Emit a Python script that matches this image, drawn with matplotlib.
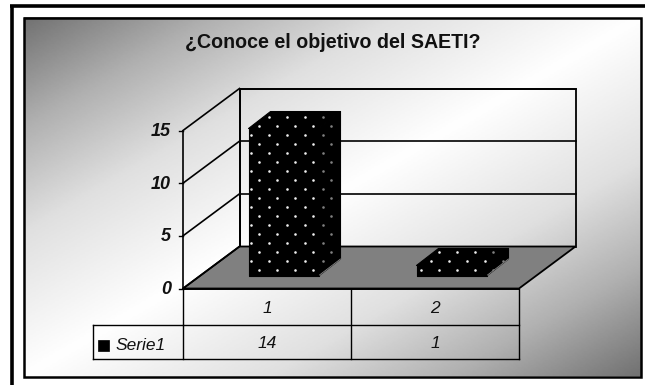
import numpy as np
import matplotlib
matplotlib.use('Agg')
import matplotlib.pyplot as plt
from matplotlib.colors import LinearSegmentedColormap
from matplotlib.patches import Polygon, Rectangle

title = '¿Conoce el objetivo del SAETI?'
categories = ['1', '2']
series_name = 'Serie1'
values = [14, 1]
y_ticks = [0, 5, 10, 15]

plt.rcParams['font.family'] = ['Liberation Sans', 'DejaVu Sans']

W, H = 645, 385
X0, X1 = 183, 519       # front edge of the floor
Y0, Y15 = 288.5, 130.5  # front axis
DX, DY = 56.5, 42       # depth of the box
BAR_W = 70
BAR_DX, BAR_DY = 22, 17
BAR_BASE = 276
BAR_SHIFT = 16.5


def ypix(v):
    return Y0 + (Y15 - Y0) * v / 15.0


fig = plt.figure(figsize=(W / 100, H / 100), dpi=100)
ax = fig.add_axes([0, 0, 1, 1])
ax.set_xlim(0, W)
ax.set_ylim(H, 0)
ax.axis('off')

# diagonal background: dark corners, white band through the middle
L, T, R, B = 23.5, 17.5, 640.5, 376.5
xx, yy = np.meshgrid(np.linspace(0, 1, 300), np.linspace(0, 1, 200))
t = (xx + yy) / 2
cmap = LinearSegmentedColormap.from_list('bg', [(0, '#727272'), (0.15, '#b0b0b0'), (0.3, '#e0e0e0'), (0.5, '#ffffff'),
                                                (0.7, '#e0e0e0'), (0.85, '#b0b0b0'), (1, '#727272')])
ax.imshow(t, cmap=cmap, extent=(L, R, B, T), aspect='auto', zorder=0, vmin=0, vmax=1)
ax.set_xlim(0, W)
ax.set_ylim(H, 0)

ax.add_patch(Rectangle((L, T), R - L, B - T, fill=False, ec='black', lw=1.8, zorder=1))
ax.plot([11.5, 11.5], [H, 5.5], color='black', lw=2.6, solid_capstyle='butt', zorder=1)
ax.plot([10, W], [5.5, 5.5], color='black', lw=2.6, solid_capstyle='butt', zorder=1)

ax.text(333, 42, title, ha='center', va='center', fontsize=14.1, fontweight='bold', color='#111111')

# back wall (see-through), floor
ax.add_patch(Polygon([(X0 + DX, ypix(0) - DY), (X1 + DX, ypix(0) - DY), (X1 + DX, ypix(15) - DY), (X0 + DX, ypix(15) - DY)],
                     fc='none', ec='black', lw=1.3, zorder=1.5))
ax.add_patch(Polygon([(X0, ypix(0)), (X0 + DX, ypix(0) - DY), (X1 + DX, ypix(0) - DY), (X1, ypix(0))],
                     fc='#808080', ec='black', lw=1.3, zorder=2))

# gridlines and axis
for v in y_ticks:
    y = ypix(v)
    if v != 0:
        ax.plot([X0 + DX, X1 + DX], [y - DY, y - DY], color='black', lw=1.2, zorder=1.6)
    ax.plot([X0, X0 + DX], [y, y - DY], color='black', lw=1.2, zorder=2.1)
    ax.plot([X0 - 4, X0], [y, y], color='black', lw=1.0, zorder=2.1)
    ax.text(X0 - 12, y + 1, str(v), ha='right', va='center', fontsize=13, fontweight='bold',
            fontstyle='italic', color='#111111')
ax.plot([X0, X0], [ypix(0), ypix(15)], color='black', lw=1.2, zorder=2.1)
ax.plot([X0 + DX, X0 + DX], [ypix(0) - DY, ypix(15) - DY], color='black', lw=1.4, zorder=1.7)

# bars, the dot screen is one lattice over the whole chart
col_w = (X1 - X0) / len(values)
lat_x, lat_y = 18.0, 9.0
for i, val in enumerate(values):
    xl = X0 + col_w * i + (col_w - BAR_W) / 2 + BAR_SHIFT
    xr = xl + BAR_W
    h = val * (Y0 - Y15) / 15.0
    top = BAR_BASE - h
    front = [(xl, BAR_BASE), (xr, BAR_BASE), (xr, top), (xl, top)]
    side = [(xr, BAR_BASE), (xr + BAR_DX, BAR_BASE - BAR_DY), (xr + BAR_DX, top - BAR_DY), (xr, top)]
    roof = [(xl, top), (xr, top), (xr + BAR_DX, top - BAR_DY), (xl + BAR_DX, top - BAR_DY)]
    for pts in (front, side, roof):
        ax.add_patch(Polygon(pts, fc='black', ec='black', lw=0.8, joinstyle='round', zorder=3))
    # thin highlight along the bottom of the side face
    ax.plot([xr + 1, xr + BAR_DX], [BAR_BASE - 1, BAR_BASE - BAR_DY], color='#888888', lw=0.6, zorder=3.1)

    outline = Polygon([(xl, BAR_BASE), (xr, BAR_BASE), (xr + BAR_DX, BAR_BASE - BAR_DY),
                       (xr + BAR_DX, top - BAR_DY), (xl + BAR_DX, top - BAR_DY), (xl, top)],
                      transform=ax.transData, fc='none', ec='none', zorder=3)
    ax.add_patch(outline)
    dots_front = []
    dots_side = []
    rows = int((BAR_BASE - top + BAR_DY) / lat_y) + 2
    for r in range(rows):
        yd = 270 - r * lat_y
        xd = 259 if r % 2 == 0 else 250.5
        while xd < xr + BAR_DX:
            if xl < xd < xr:
                dots_front.append((xd, yd))
            elif xd >= xr:
                dots_side.append((xd, yd))
            xd += lat_x
    for pts_list, col in ((dots_front, '#eeeeee'), (dots_side, '#808080')):
        if pts_list:
            arr = np.array(pts_list)
            sc = ax.scatter(arr[:, 0], arr[:, 1], s=3.5, color=col, linewidths=0, zorder=3.2)
            sc.set_clip_path(outline)

# data table
Y_T, Y_M, Y_B = ypix(0), 325, 359
LEG_X = 93
ax.plot([X0, X1], [Y_T, Y_T], color='black', lw=1.4, zorder=2.5)
ax.plot([X0, X1], [Y_M, Y_M], color='black', lw=1.0, zorder=2.5)
ax.plot([LEG_X, X0], [Y_M, Y_M], color='black', lw=1.0, zorder=2.5)
ax.plot([LEG_X, X1], [Y_B, Y_B], color='black', lw=1.0, zorder=2.5)
ax.plot([LEG_X, LEG_X], [Y_M, Y_B], color='black', lw=1.0, zorder=2.5)
for k in range(len(categories) + 1):
    xk = X0 + col_w * k
    ax.plot([xk, xk], [Y_T, Y_B], color='black', lw=1.0, zorder=2.5)
for k, (c, v) in enumerate(zip(categories, values)):
    xc = X0 + col_w * (k + 0.5)
    ax.text(xc, (Y_T + Y_M) / 2 + 2, c, ha='center', va='center', fontsize=12.5, fontstyle='italic', color='#111111')
    ax.text(xc, (Y_M + Y_B) / 2 + 1.5, str(v), ha='center', va='center', fontsize=12.5, fontstyle='italic', color='#111111')
ax.add_patch(Rectangle((97.5, 339.5), 11, 11, fc='black', ec='black', lw=0.5, zorder=3))
ax.text(116, 345.5, series_name, ha='left', va='center', fontsize=12.5, fontstyle='italic', color='#111111')

fig.savefig('out.png', dpi=100)
